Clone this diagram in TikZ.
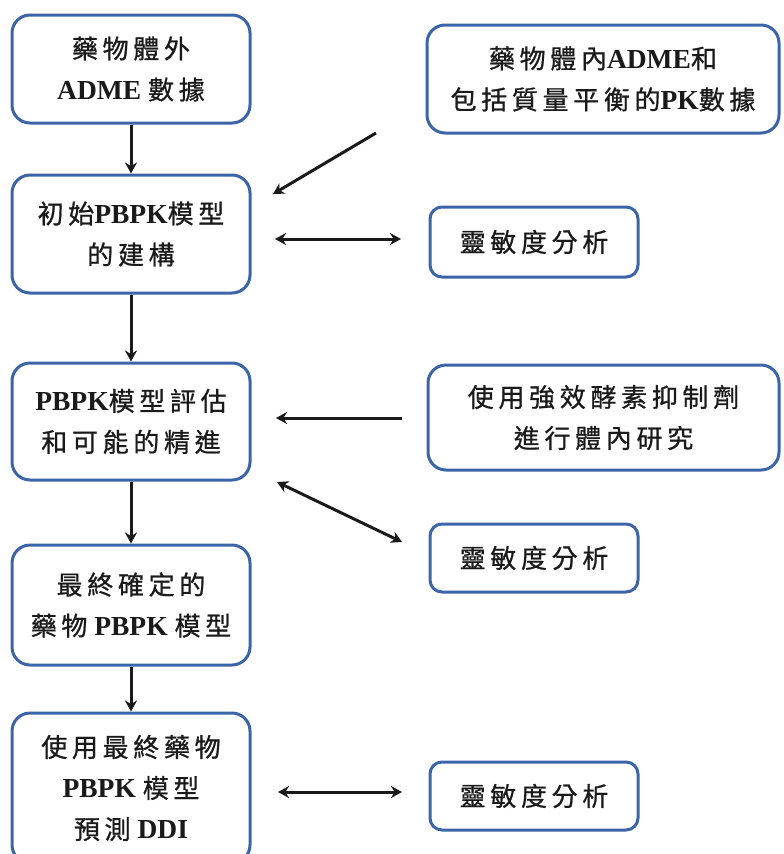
\documentclass[tikz,border=0pt]{standalone}
\usepackage{fontspec}
\setmainfont{Liberation Serif}
\newfontfamily\cjk[LetterSpace=18,FakeBold=0.8]{Noto Sans CJK TC}
\usetikzlibrary{arrows.meta}
\newcommand\ck[1]{{\cjk\fontsize{26}{41}\selectfont #1}}
\newcommand\lt[1]{{\bfseries #1}}
\definecolor{boxblue}{HTML}{3C64A8}
\definecolor{ink}{HTML}{1A1A1A}
\tikzset{
  bigbox/.style={draw=boxblue, line width=3pt, rounded corners=18pt, fill=white,
    text=ink, align=center, inner sep=0pt, font=\fontsize{27.5}{41}\selectfont},
  smallbox/.style={draw=boxblue, line width=3pt, rounded corners=12pt, fill=white,
    text=ink, align=center, inner sep=0pt, font=\fontsize{27.5}{41}\selectfont},
  arr/.style={line width=3pt, draw=ink, -{Stealth[length=11pt,width=12pt]}},
  darr/.style={line width=3pt, draw=ink, {Stealth[length=11pt,width=12pt]}-{Stealth[length=11pt,width=12pt]}}
}
\begin{document}
\begin{tikzpicture}[x=1pt,y=-1pt]
\useasboundingbox (0,0) rectangle (784,854);
% left column
\node[bigbox, minimum width=238pt, minimum height=108pt] (b1) at (131,69) {\ck{藥物體外}\\\lt{ADME} \ck{數據}};
\node[bigbox, minimum width=238pt, minimum height=118pt] (b2) at (131,234) {\ck{初始}\lt{PBPK}\ck{模型}\\\ck{的建構}};
\node[bigbox, minimum width=238pt, minimum height=117pt] (b3) at (131,421.5) {\lt{PBPK}\ck{模型評估}\\\ck{和可能的精進}};
\node[bigbox, minimum width=238pt, minimum height=120pt] (b4) at (131,605) {\ck{最終確定的}\\\ck{藥物} \lt{PBPK} \ck{模型}};
\node[bigbox, minimum width=238pt, minimum height=150pt] (b5) at (131,788) {\ck{使用最終藥物}\\\lt{PBPK} \ck{模型}\\\ck{預測} \lt{DDI}};
% right column
\node[bigbox, minimum width=352pt, minimum height=108pt] (r1) at (603,79) {\ck{藥物體內}\lt{ADME}\ck{和}\\\ck{包括質量平衡的}\lt{PK}\ck{數據}};
\node[smallbox, minimum width=208pt, minimum height=70pt] (r2) at (534,242) {\ck{靈敏度分析}};
\node[bigbox, minimum width=351pt, minimum height=105pt] (r3) at (603.5,417.5) {\ck{使用強效酵素抑制劑}\\\ck{進行體內研究}};
\node[smallbox, minimum width=208pt, minimum height=68pt] (r4) at (534,558) {\ck{靈敏度分析}};
\node[smallbox, minimum width=208pt, minimum height=68pt] (r5) at (534,796) {\ck{靈敏度分析}};
% vertical arrows
\draw[arr] (b1) -- (b2);
\draw[arr] (b2) -- (b3);
\draw[arr] (b3) -- (b4);
\draw[arr] (b4) -- (b5);
% side connectors
\coordinate (p1s) at (376,133);
\coordinate (p1e) at (273,194);
\draw[arr] (p1s) -- (p1e);
\coordinate (p2s) at (275,239);
\coordinate (p2e) at (401,239);
\draw[darr] (p2s) -- (p2e);
\coordinate (p3s) at (402,418);
\coordinate (p3e) at (276,418);
\draw[arr] (p3s) -- (p3e);
\coordinate (p4s) at (277,482);
\coordinate (p4e) at (402,542);
\draw[darr] (p4s) -- (p4e);
\coordinate (p5s) at (278,792);
\coordinate (p5e) at (402,792);
\draw[darr] (p5s) -- (p5e);
\end{tikzpicture}
\end{document}
